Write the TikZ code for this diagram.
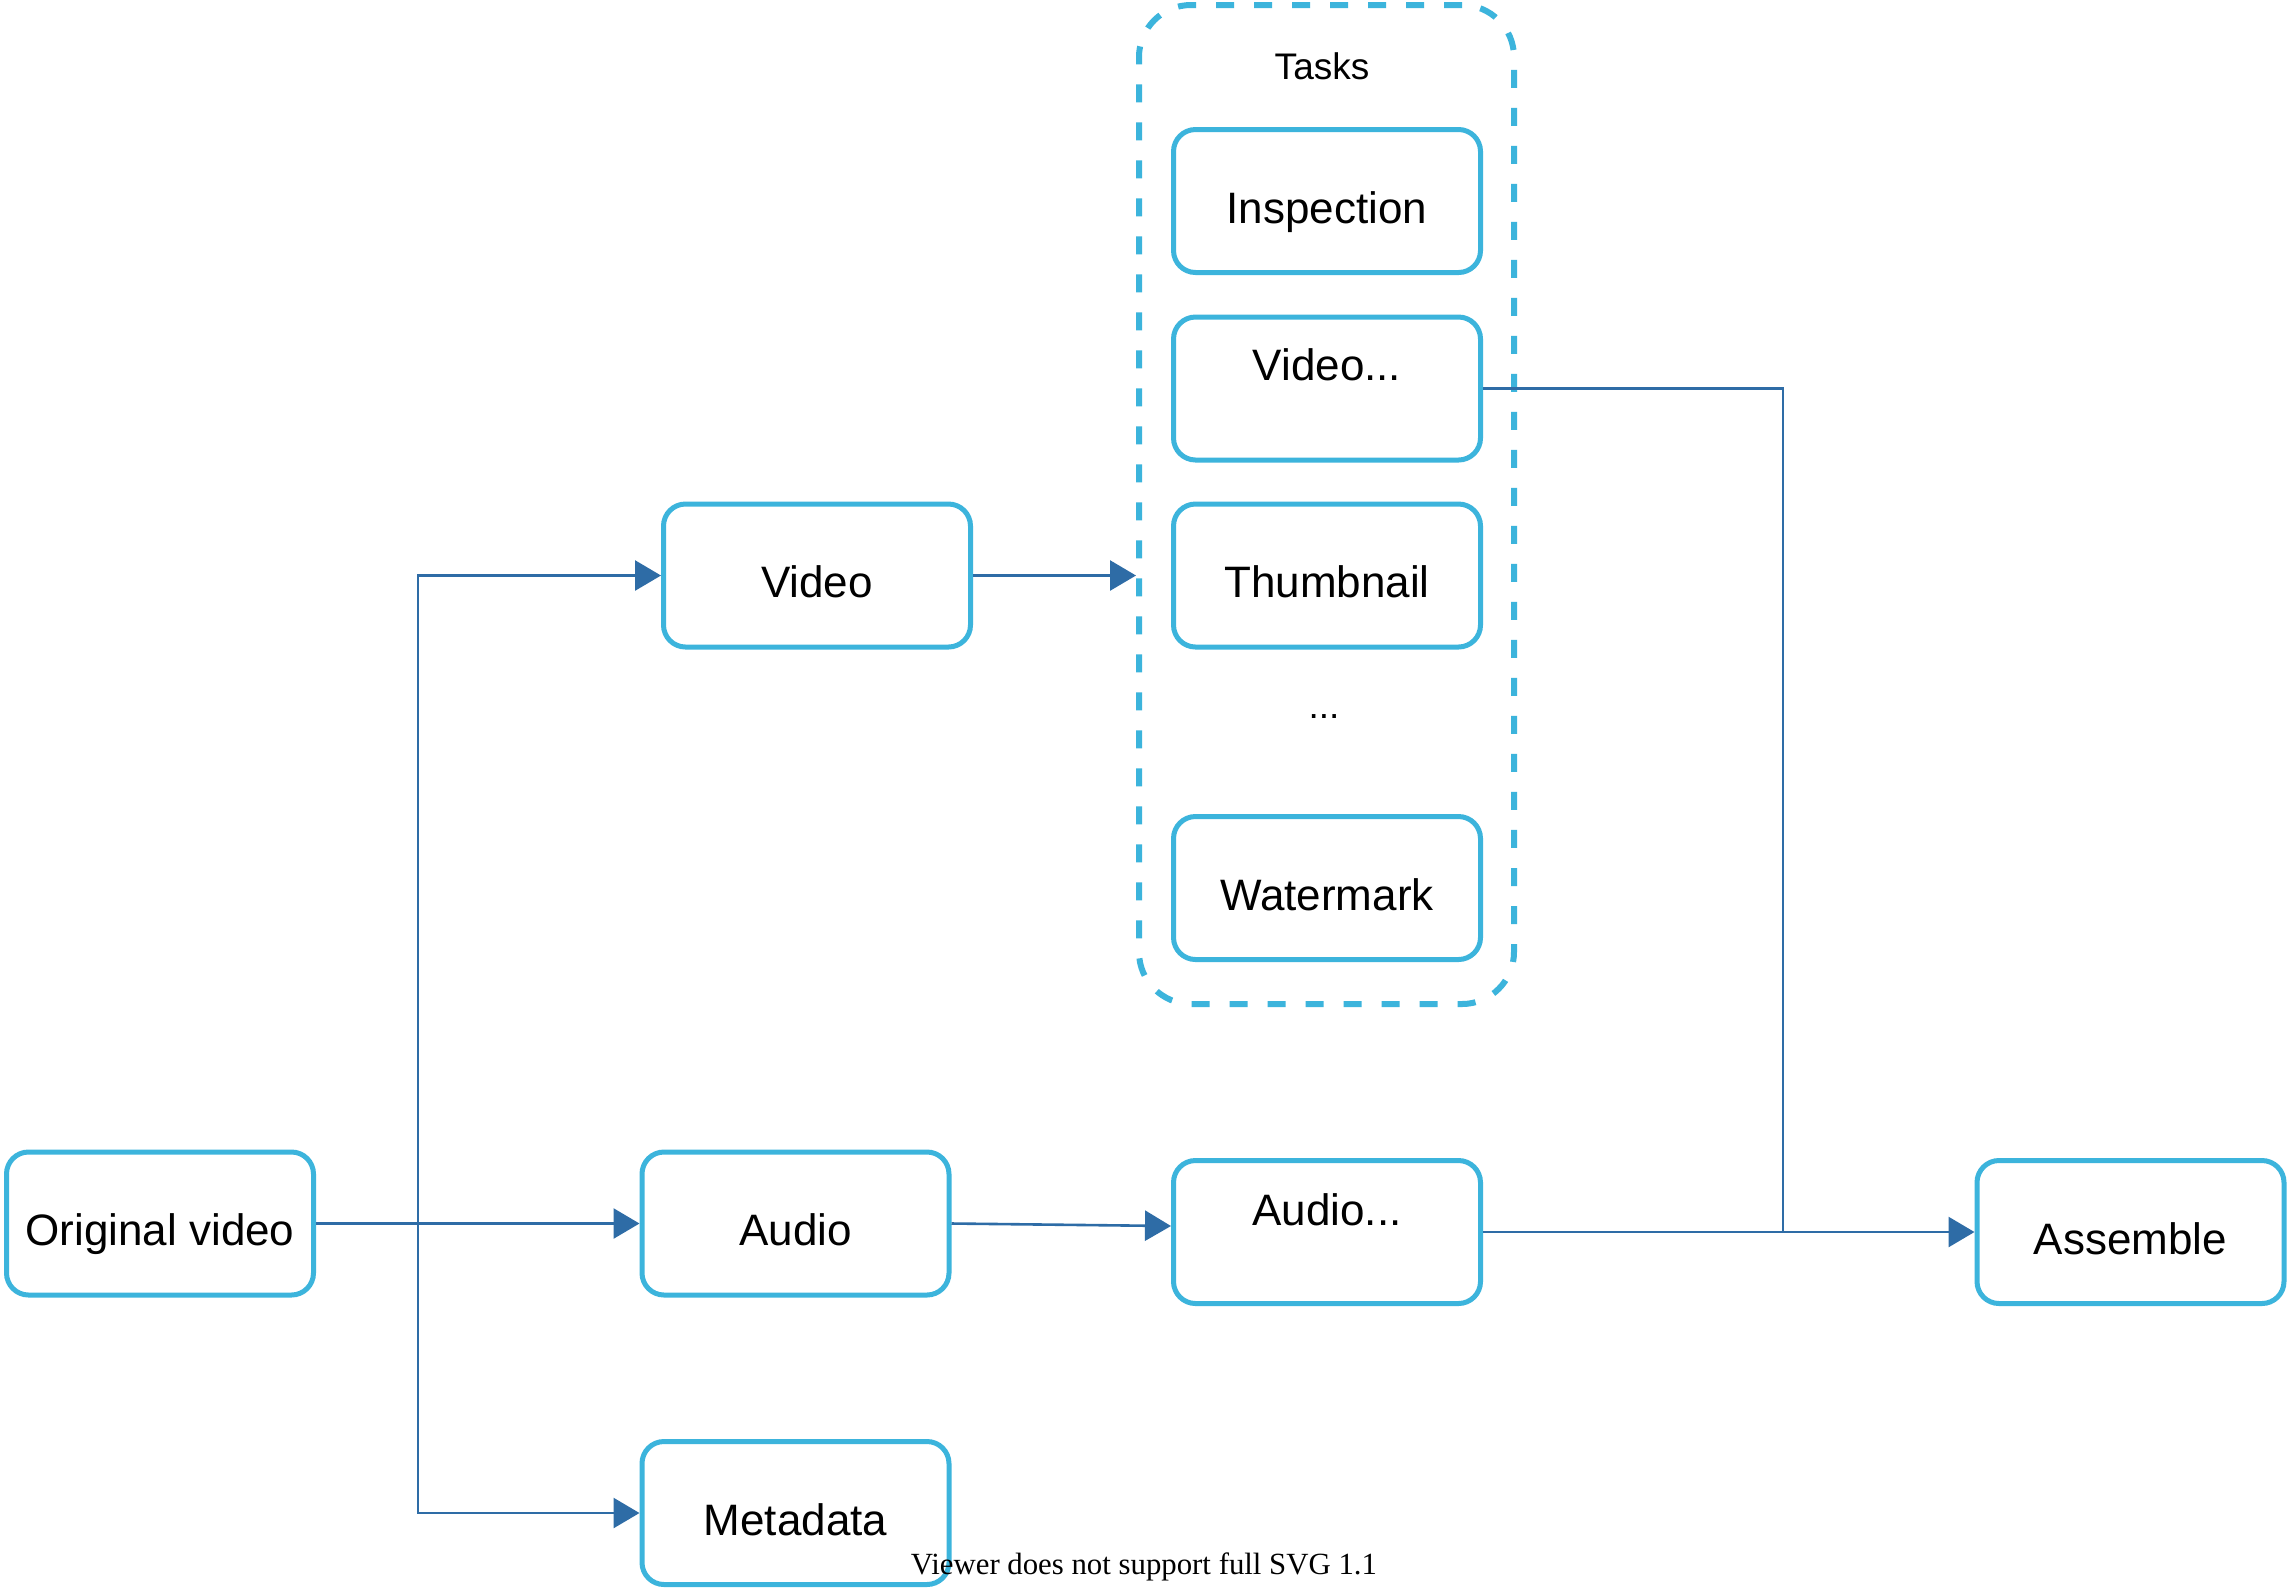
\documentclass[tikz,border=0pt]{standalone}
\usepackage{fontspec}
\setmainfont{Liberation Sans}
\newfontfamily\serifviewer{Liberation Serif}
\usetikzlibrary{arrows.meta}
\definecolor{boxblue}{RGB}{60,180,220}
\definecolor{arrowblue}{RGB}{46,108,166}
\begin{document}
\begin{tikzpicture}[x=0.5pt,y=-0.5pt,
  stepbox/.style={draw=boxblue, line width=2.5pt, rounded corners=11pt, minimum width=153.5pt, minimum height=71.5pt, inner sep=0pt, fill=white, text height=22pt, text depth=0pt, font=\fontsize{22pt}{26pt}\selectfont},
  boxtext/.style={inner sep=0pt, font=\fontsize{22pt}{26pt}\selectfont},
  conn/.style={draw=arrowblue, line width=1.3pt, -{Triangle[length=13pt,width=15pt]}},
  plain/.style={draw=arrowblue, line width=1.3pt}
]
\useasboundingbox (0,0) rectangle (2287,1587);
\fill[white] (0,0) rectangle (2287,1587);

% container
\node[draw=boxblue, line width=3pt, dash pattern=on 9pt off 10pt, rounded corners=26pt,
      minimum width=187.5pt, minimum height=499.5pt, inner sep=0pt] (tasks) at (1326.5,504.5) {};
\node[inner sep=0pt, font=\fontsize{18.5pt}{21pt}\selectfont] (taskslabel) at (1322,66) {Tasks};

% boxes
\node[stepbox] (ov) at (160,1223.5) {Original video};
\node[stepbox] (video) at (817,575.5) {Video};
\node[stepbox] (audio) at (795.5,1223.5) {Audio};
\node[stepbox] (meta) at (795.5,1513) {Metadata};
\node[stepbox] (insp) at (1327,201) {Inspection};
\node[stepbox] (video2) at (1327,388.5) {};
\node[boxtext] (video2t) at (1327,365) {Video...};
\node[stepbox] (thumb) at (1327,575.5) {Thumbnail};
\node[inner sep=0pt, font=\fontsize{18.5pt}{21pt}\selectfont] (dots) at (1324,717) {...};
\node[stepbox] (water) at (1327,888) {Watermark};
\node[stepbox] (audio2) at (1327,1232) {};
\node[boxtext] (audio2t) at (1327,1210) {Audio...};
\node[stepbox] (assemble) at (2130.5,1232) {Assemble};

% connectors
\coordinate (split) at (418,1223.5);
\coordinate (merge) at (1783,1232);
\coordinate (a2y) at (0,1226);
\draw[conn] (ov.east) -- (audio.west);
\draw[conn] (split) |- (video.west);
\draw[conn] (split) |- (meta.west);
\draw[conn] (video.east) -- (video.east -| tasks.west);
\draw[conn] (audio.east) -- (audio2.west |- a2y);
\draw[conn] (audio2.east) -- (assemble.west);
\draw[plain] (video2.east) -| (merge);

\node[inner sep=0pt, font=\serifviewer\fontsize{15.4pt}{18pt}\selectfont] (viewer) at (1144,1567) {Viewer does not support full SVG 1.1};
\end{tikzpicture}
\end{document}
